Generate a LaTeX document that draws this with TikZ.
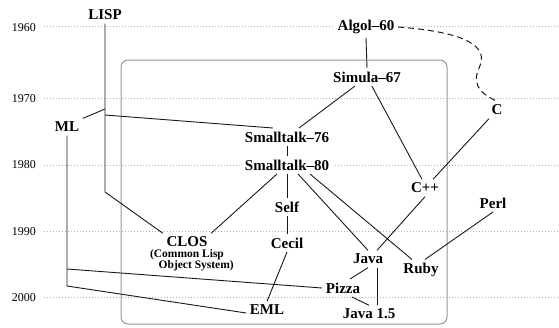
\documentclass[tikz,border=0pt]{standalone}
\usepackage{fontspec}
\setmainfont{Liberation Serif}
\usepackage{tikz}
\usetikzlibrary{arrows.meta, positioning, calc}
\usepackage{xcolor}
\definecolor{gridgray}{RGB}{175, 175, 175}
\definecolor{boxgray}{RGB}{150, 150, 150}
\definecolor{linkgray}{RGB}{25, 25, 25}
\tikzset{
  lang/.style={rectangle, fill=white, inner sep=3.5pt, font=\fontsize{15}{17}\selectfont\bfseries},
  langnote/.style={inner sep=0pt, align=center, font=\fontsize{11.5}{11}\selectfont\bfseries},
  year/.style={inner sep=0pt, font=\fontsize{12}{14}\selectfont},
  grid/.style={gridgray, line width=0.8pt, dash pattern=on 0.8pt off 2.2pt},
  link/.style={linkgray, line width=0.9pt},
  influence/.style={linkgray, line width=1pt, dash pattern=on 6pt off 4pt},
}

\begin{document}
\begin{tikzpicture}[x=1pt, y=-1pt]
    \useasboundingbox (0,0) rectangle (559,327);

    % time axis
    \node[year] (y1960) at (24,28) {1960};
    \node[year] (y1970) at (24,99) {1970};
    \node[year] (y1980) at (24,165) {1980};
    \node[year] (y1990) at (24,232) {1990};
    \node[year] (y2000) at (24,298) {2000};
    \draw[grid] (44,26.5) -- (559,26.5);
    \draw[grid] (44,98.5) -- (559,98.5);
    \draw[grid] (44,165) -- (559,165);
    \draw[grid] (44,231.5) -- (559,231.5);
    \draw[grid] (44,297.5) -- (559,297.5);

    \draw[boxgray, line width=1pt, rounded corners=7pt] (121,60) rectangle (447,324);

    % languages
    \node[lang] (lisp) at (105,15) {LISP};
    \node[lang] (ml) at (67,127) {ML};
    \node[lang] (algol) at (366,27) {Algol--60};
    \node[lang] (simula) at (367,77) {Simula--67};
    \node[lang] (c) at (497,110) {C};
    \node[lang] (st76) at (287,137) {Smalltalk--76};
    \node[lang] (st80) at (287,165) {Smalltalk--80};
    \node[lang] (cpp) at (425,188) {C++};
    \node[lang] (self) at (287,207) {Self};
    \node[lang] (perl) at (493,203) {Perl};
    \node[lang] (clos) at (187,242) {CLOS};
    \node[langnote, below=-1pt of clos] (closnote) {(Common Lisp\\\hspace*{1.6em}Object System)};
    \node[lang] (cecil) at (287,243) {Cecil};
    \node[lang] (java) at (368,259) {Java};
    \node[lang] (ruby) at (421,270) {Ruby};
    \node[lang] (pizza) at (343,288) {Pizza};
    \node[lang] (eml) at (267,310) {EML};
    \node[lang] (java15) at (369,314) {Java 1.5};

    \coordinate (lispml) at (105,109);
    \coordinate (lispst) at (105,115);
    \coordinate (lispbend) at (105,192);
    \coordinate (mlpizza) at (67,269);
    \coordinate (mlbend) at (67,286);

    % influences
    \draw[link] (lisp.south) -- (lispbend) -- (clos.north west);
    \draw[link] (lispml) -- (ml.north east);
    \draw[link] (lispst) -- ([xshift=-14pt]st76.north);
    \draw[link] (ml.south) -- (mlbend) -- ([yshift=-3pt]eml.west);
    \draw[link] (mlpizza) -- (pizza.west);
    \draw[link] (algol.south) -- (simula.north);
    \draw[influence] (algol.east) .. controls (465,32) and (490,46) .. (479,68)
        .. controls (470,88) and (486,96) .. (c.north);
    \draw[link] (simula) -- (st76);
    \draw[link] (simula) -- ([xshift=-3pt]cpp.north);
    \draw[link] (c) -- (cpp);
    \draw[link] (st76) -- (st80);
    \draw[link] (st80) -- (self);
    \draw[link] (self) -- (cecil);
    \draw[link] (st80) -- (clos.north east);
    \draw[link] ([xshift=11pt]st80.south) -- (java.north);
    \draw[link] ([xshift=23pt]st80.south) -- ([xshift=-9pt]ruby.north);
    \draw[link] (cpp.south) -- ([xshift=9pt]java.north);
    \draw[link] (perl.south) -- ([xshift=4pt]ruby.north);
    \draw[link] (cecil.south) -- (eml.north);
    \draw[link] (java.south) -- ([xshift=7pt]pizza.north);
    \draw[link] ([xshift=9pt]java.south) -- ([xshift=8pt]java15.north);
    \draw[link] ([xshift=9pt]pizza.south) -- (java15.north);
  \end{tikzpicture}
\end{document}
